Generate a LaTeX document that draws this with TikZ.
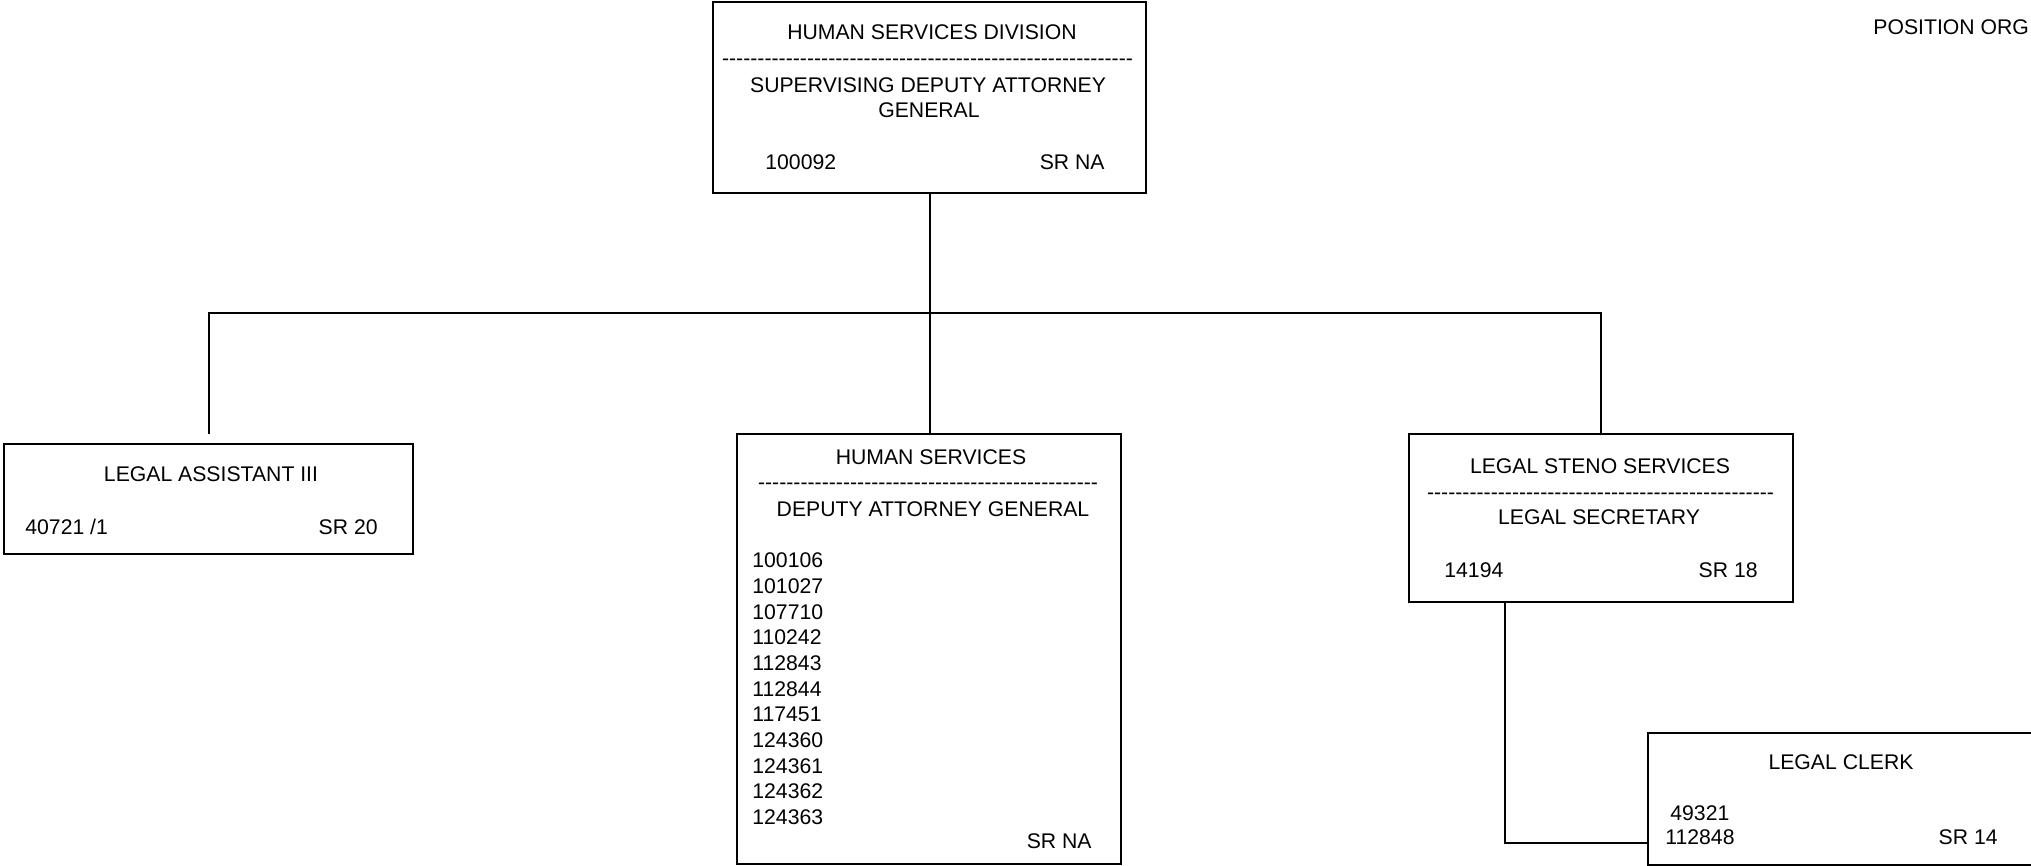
\documentclass[tikz,border=0pt]{standalone}
\usepackage{fontspec}
\setmainfont{Liberation Sans}
\newcommand\hyphrow[1]{\hbox to #1{\xleaders\hbox{-}\hfill}}
\begin{document}
\begin{tikzpicture}[x=0.5pt,y=-0.5pt,
  box/.style={draw, line width=1pt, inner sep=0pt, outer sep=0pt},
  lbl/.style={inner sep=0pt, font=\fontsize{10.6pt}{12.8pt}\selectfont, text height=7.6pt, text depth=0pt},
  dashrow/.style={inner sep=0pt, font=\fontsize{10.6pt}{12.8pt}\selectfont, anchor=base},
  conn/.style={line width=1pt}]
\useasboundingbox (0,0) rectangle (2031,866);
\begin{scope}
\clip (0,0) rectangle (2031,866);
% boxes
\node[box, minimum width=216.5pt, minimum height=95.5pt] (top) at (929.5,97.5) {};
\node[box, minimum width=204.5pt, minimum height=55pt] (assist) at (208.5,499) {};
\node[box, minimum width=192pt, minimum height=215pt] (hs) at (929,649) {};
\node[box, minimum width=192pt, minimum height=84pt] (steno) at (1601,518) {};
\node[box, minimum width=201pt, minimum height=66pt] (clerk) at (1849,799) {};
% top box texts
\node[lbl] (t1) at (932,32) {HUMAN SERVICES DIVISION};
\node[dashrow] (td) at (927.5,66) {\hyphrow{205.5pt}};
\node[lbl] (t2) at (928,85) {SUPERVISING DEPUTY ATTORNEY};
\node[lbl] (t3) at (929,110) {GENERAL};
\node[lbl, anchor=west] (t4) at (765,162) {100092};
\node[lbl, anchor=east] (t5) at (1105,162) {SR NA};
% legal assistant
\node[lbl] (a1) at (211,474) {LEGAL ASSISTANT III};
\node[lbl, anchor=west] (a2) at (25,527) {40721 /1};
\node[lbl, anchor=east] (a3) at (378,527) {SR 20};
% human services
\node[lbl] (h1) at (931,457) {HUMAN SERVICES};
\node[dashrow] (hd) at (928,489) {\hyphrow{170pt}};
\node[lbl] (h2) at (933,509) {DEPUTY ATTORNEY GENERAL};
\foreach \t [count=\i] in {100106,101027,107710,110242,112843,112844,117451,124360,124361,124362,124363}
  \node[lbl, anchor=west] (hn\i) at (752,{560+25.7*(\i-1)}) {\t};
\node[lbl, anchor=east] (h3) at (1092,841) {SR NA};
% legal steno
\node[lbl] (s1) at (1600,466) {LEGAL STENO SERVICES};
\node[dashrow] (sd) at (1600.5,499) {\hyphrow{173.5pt}};
\node[lbl] (s2) at (1599,517) {LEGAL SECRETARY};
\node[lbl, anchor=west] (s3) at (1444,570) {14194};
\node[lbl, anchor=east] (s4) at (1758,570) {SR 18};
% legal clerk
\node[lbl] (c1) at (1841,762) {LEGAL CLERK};
\node[lbl, anchor=west] (c2) at (1670,813) {49321};
\node[lbl, anchor=west] (c3) at (1665,837) {112848};
\node[lbl, anchor=east] (c4) at (1998,837) {SR 14};
% title
\node[lbl, anchor=west] (title) at (1873,27) {POSITION ORG};
% connectors
\draw[conn] (top.south) -- (top.south |- hs.north);
\coordinate (barL) at (209,313);
\coordinate (barR) at (1601,313);
\coordinate (aend) at (209,434);
\draw[conn] (aend) -- (barL) -- (barR) -- (steno.north);
\coordinate (elbow) at (1505,843);
\draw[conn] (steno.south -| elbow) -- (elbow) -- (elbow -| clerk.west);
\end{scope}
\end{tikzpicture}
\end{document}
